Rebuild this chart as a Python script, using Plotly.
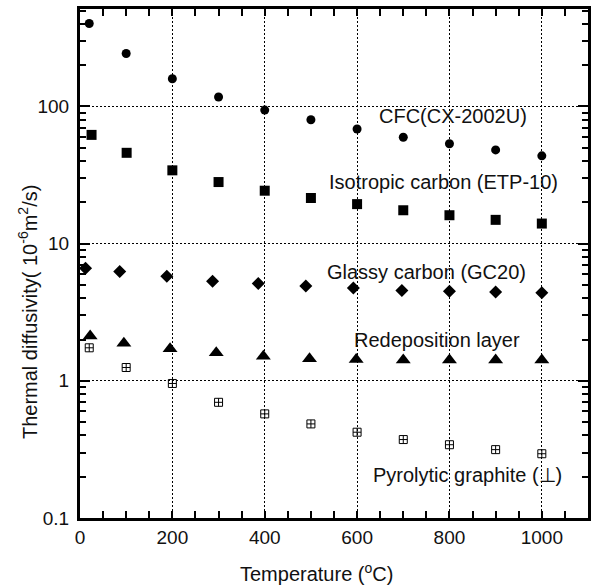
import math
import plotly.graph_objects as go

# ---- data ----
cfc_x = [20, 100, 200, 300, 400, 500, 600, 700, 800, 900, 1000]
cfc_y = [402, 243, 159, 117, 94, 80, 68.5, 59.6, 53.4, 48.2, 43.6]

etp_x = [25, 101, 200, 300, 400, 500, 600, 700, 800, 900, 1000]
etp_y = [62, 45.9, 34.2, 28.1, 24.3, 21.5, 19.4, 17.5, 16.1, 14.9, 14.0]

gc_x = [12, 86, 188, 287, 386, 489, 592, 697, 800, 900, 1000]
gc_y = [6.62, 6.27, 5.77, 5.31, 5.11, 4.91, 4.75, 4.56, 4.49, 4.43, 4.39]

rd_x = [22, 95, 195, 295, 397, 497, 598, 700, 800, 900, 1000]
rd_y = [2.12, 1.88, 1.71, 1.60, 1.51, 1.45, 1.43, 1.42, 1.42, 1.42, 1.42]

pg_x = [20, 100, 200, 300, 400, 500, 600, 700, 800, 900, 1000]
pg_y = [1.74, 1.25, 0.956, 0.697, 0.574, 0.485, 0.422, 0.373, 0.342, 0.315, 0.294]

x_ticks = [0, 200, 400, 600, 800, 1000]
y_ticks = [0.1, 1, 10, 100]
y_ticktext = ["0.1", "1", "10", "100"]

labels = [
    ("CFC(CX-2002U)", 807, 84.6),
    ("Isotropic carbon (ETP-10)", 788, 28.1),
    ("Glassy carbon (GC20)", 750, 6.2),
    ("Redeposition layer", 774, 2.0),
    ("Pyrolytic graphite (\u22a5)", 838, 0.205),
]

FONT = "Liberation Sans, Arial, Helvetica, sans-serif"

fig = go.Figure()
series = [
    (cfc_x, cfc_y, "circle", 9),
    (etp_x, etp_y, "square", 10),
    (gc_x, gc_y, "diamond", 10),
    (rd_x, rd_y, "triangle-up", 13),
]
for xs, ys, sym, sz in series:
    fig.add_trace(go.Scatter(x=xs, y=ys, mode="markers",
                             marker=dict(symbol=sym, size=sz, color="black",
                                         line=dict(width=0)),
                             showlegend=False))
fig.add_trace(go.Scatter(x=pg_x, y=pg_y, mode="markers",
                         marker=dict(symbol="square-cross-open", size=8,
                                     color="black", line=dict(width=1, color="black")),
                         showlegend=False))

for txt, lx, ly in labels:
    fig.add_annotation(x=lx, y=math.log10(ly), xref="x", yref="y", yanchor="middle",
                       xanchor="center", text=txt, showarrow=False,
                       font=dict(family=FONT, size=20, color="#111"))

# axis titles as annotations
fig.add_annotation(x=0.4657, y=-0.1074, xref="paper", yref="paper",
                   text="Temperature (<sup>o</sup>C)", showarrow=False,
                   xanchor="center", yanchor="middle",
                   font=dict(family=FONT, size=20, color="#111"))
fig.add_annotation(x=-0.102, y=0.405, xref="paper", yref="paper",
                   text="Thermal diffusivity( 10<sup>-6</sup>m<sup>2</sup>/s)",
                   textangle=-90, showarrow=False,
                   xanchor="center", yanchor="middle",
                   font=dict(family=FONT, size=20, color="#111"))

fig.update_xaxes(range=[0, 1100], tickvals=x_ticks,
                 ticks="inside", ticklen=7, tickwidth=2, tickcolor="black",
                 minor=dict(dtick=50, ticks="inside", ticklen=7, tickwidth=2,
                            tickcolor="black", showgrid=False),
                 showline=True, linewidth=3, linecolor="black", mirror="ticks",
                 showgrid=True, gridcolor="black", gridwidth=1, griddash="2px,2px",
                 zeroline=False,
                 tickfont=dict(family=FONT, size=19, color="#111"))
fig.update_yaxes(type="log", range=[-1, 2.71], tickvals=y_ticks, ticktext=y_ticktext,
                 ticks="inside", ticklen=10, tickwidth=2, tickcolor="black",
                 minor=dict(dtick="D1", ticks="inside", ticklen=6, tickwidth=2,
                            tickcolor="black", showgrid=False),
                 showline=True, linewidth=3, linecolor="black", mirror="ticks",
                 showgrid=True, gridcolor="black", gridwidth=1, griddash="2px,2px",
                 zeroline=False, ticklabelstandoff=4,
                 tickfont=dict(family=FONT, size=19, color="#111"))

fig.update_layout(width=597, height=588,
                  margin=dict(l=80, r=7, t=6, b=70),
                  plot_bgcolor="white", paper_bgcolor="white",
                  font=dict(family=FONT, color="#111"))

fig.write_html("out.html")
